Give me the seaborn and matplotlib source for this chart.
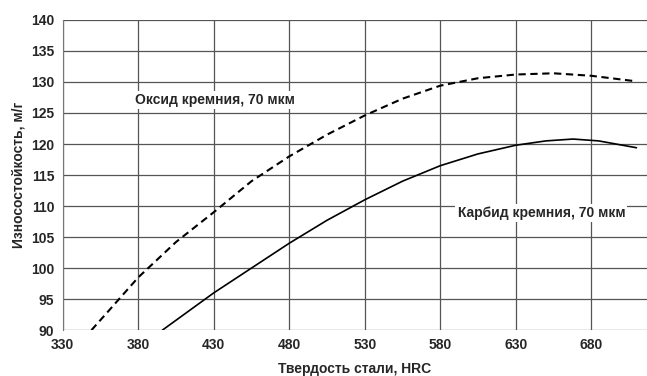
import pandas as pd
import numpy as np
import matplotlib.pyplot as plt
import seaborn as sns

# ==== データ ====
oxide_x = [349, 360, 380, 405, 430, 455, 480, 505, 530, 555, 580, 605, 630, 655, 680, 710]
oxide_y = [90, 93, 98.5, 104.2, 109, 114, 118, 121.5, 124.6, 127.3, 129.4, 130.6, 131.2, 131.4, 131.0, 130.1]
carbide_x = [396, 430, 455, 480, 505, 530, 555, 580, 605, 630, 650, 668, 685, 710]
carbide_y = [90, 96, 100, 104, 107.7, 111, 114, 116.5, 118.4, 119.8, 120.5, 120.8, 120.5, 119.4]

x_ticks = [330, 380, 430, 480, 530, 580, 630, 680]
y_ticks = [90, 95, 100, 105, 110, 115, 120, 125, 130, 135, 140]

sns.set_style("white")
plt.rcParams["font.family"] = ["Liberation Sans", "DejaVu Sans"]
plt.rcParams["font.weight"] = "bold"

fig = plt.figure(figsize=(6.47, 3.76), dpi=100)
ax = fig.add_axes([0.097, 0.122, 0.903, 0.825])

df_ox = pd.DataFrame({"x": oxide_x, "y": oxide_y})
df_cb = pd.DataFrame({"x": carbide_x, "y": carbide_y})
sns.lineplot(data=df_ox, x="x", y="y", ax=ax, color="black", lw=1.5,
             linestyle=(0, (3.5, 2.2)), zorder=3)
sns.lineplot(data=df_cb, x="x", y="y", ax=ax, color="black", lw=1.2, zorder=3)

ax.set_xlim(330, 717)
ax.set_ylim(90, 140)
ax.set_xticks(x_ticks)
ax.set_yticks(y_ticks)
ax.grid(True, color="#555555", lw=0.9)
for s in ["top", "right", "bottom"]:
    ax.spines[s].set_visible(False)
ax.spines["left"].set_color("#777777")
ax.tick_params(axis="y", length=4, color="#555555", labelsize=10, pad=2)
ax.tick_params(axis="x", length=0, labelsize=10, pad=6)
for lab in ax.get_xticklabels() + ax.get_yticklabels():
    lab.set_fontweight("bold")

ax.set_xlabel("Твердость стали, HRC", fontsize=10, fontweight="bold", labelpad=7)
ax.set_ylabel("Износостойкость, м/г", fontsize=10, fontweight="bold", labelpad=4)

ax.text(431, 127.1, "Оксид кремния, 70 мкм", ha="center", va="center",
        fontsize=10, fontweight="bold", zorder=4,
        bbox=dict(facecolor="white", edgecolor="none", pad=1.5))
ax.text(647, 108.9, "Карбид кремния, 70 мкм", ha="center", va="center",
        fontsize=10, fontweight="bold", zorder=4,
        bbox=dict(facecolor="white", edgecolor="none", pad=1.5))

plt.savefig("out.png", dpi=100)
